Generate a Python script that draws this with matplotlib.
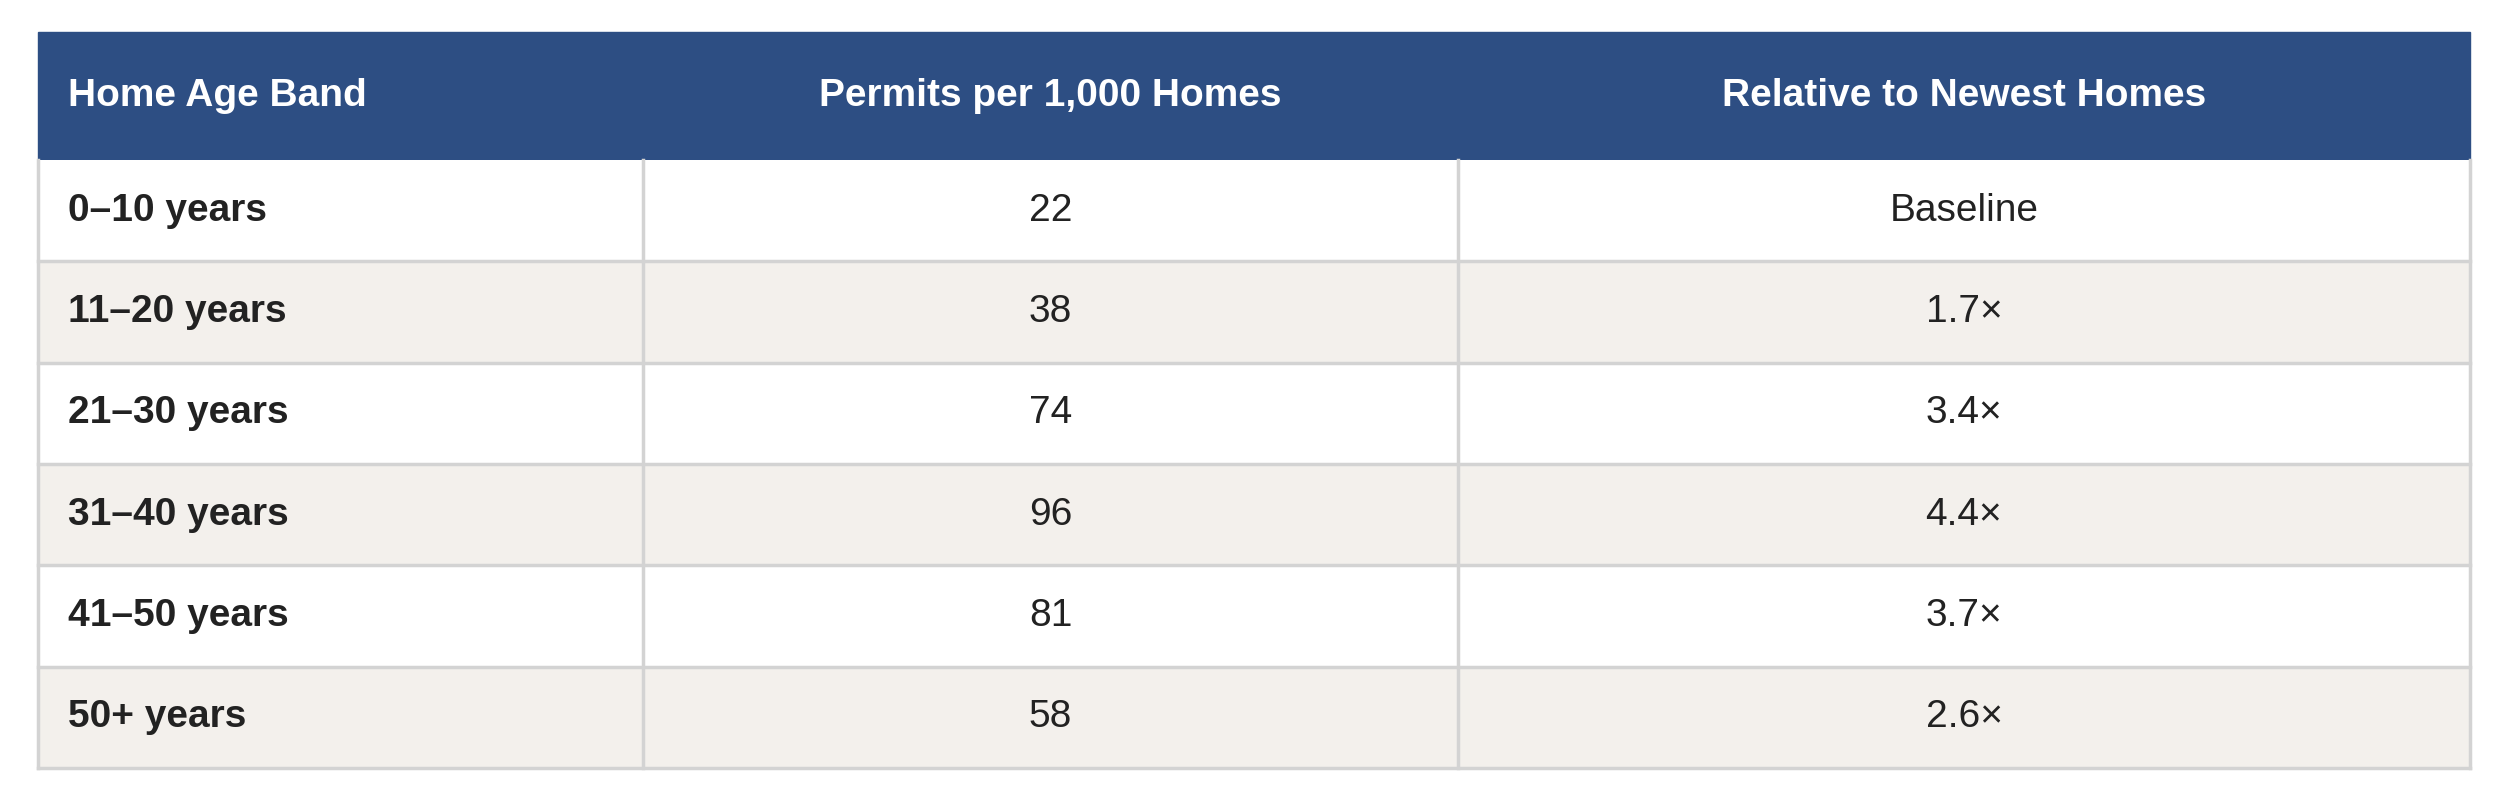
import matplotlib
matplotlib.use("Agg")
import matplotlib.pyplot as plt
from matplotlib.patches import Rectangle

headers = ["Home Age Band", "Permits per 1,000 Homes", "Relative to Newest Homes"]
bands = ["0–10 years", "11–20 years", "21–30 years", "31–40 years", "41–50 years", "50+ years"]
permits = [22, 38, 74, 96, 81, 58]
relative = ["Baseline", "1.7×", "3.4×", "4.4×", "3.7×", "2.6×"]

W, H = 2500, 794
fig = plt.figure(figsize=(25, 7.94), dpi=100)
ax = fig.add_axes([0, 0, 1, 1])
ax.set_xlim(0, W)
ax.set_ylim(H, 0)
ax.axis("off")
plt.rcParams['font.family'] = ['Liberation Sans', 'DejaVu Sans']

left, right = 38, 2470
cols = [left, 643, 1458, right]
top, head_bot, bottom = 32, 160, 768
row_h = (bottom - head_bot) / len(bands)
header_color = "#2d4e83"
alt_color = "#f3f0ec"
line_color = "#d3d3d3"
text_color = "#222222"
fs = 28

ax.add_patch(Rectangle((left, top), right - left, head_bot - top, color=header_color, zorder=1))
hy = (top + head_bot) / 2
ax.text(left + 30, hy, headers[0], color="white", fontsize=fs, fontweight="bold", va="center", ha="left")
for i in (1, 2):
    ax.text((cols[i] + cols[i + 1]) / 2, hy, headers[i], color="white", fontsize=fs,
            fontweight="bold", va="center", ha="center")

for r, (b, p, rel) in enumerate(zip(bands, permits, relative)):
    y0 = head_bot + r * row_h
    fc = alt_color if r % 2 == 1 else "white"
    ax.add_patch(Rectangle((left, y0), right - left, row_h, facecolor=fc, edgecolor="none", zorder=1))
    yc = y0 + row_h / 2
    ax.text(left + 30, yc, b, color=text_color, fontsize=fs, fontweight="bold", va="center", ha="left")
    ax.text((cols[1] + cols[2]) / 2, yc, str(p), color=text_color, fontsize=fs, va="center", ha="center")
    ax.text((cols[2] + cols[3]) / 2, yc, rel, color=text_color, fontsize=fs, va="center", ha="center")
    ax.plot([left, right], [y0 + row_h, y0 + row_h], color=line_color, lw=2.5, zorder=2)

for x in cols:
    ys = head_bot if x in (cols[1], cols[2]) else head_bot
    ax.plot([x, x], [ys, bottom], color=line_color, lw=2.5, zorder=2)

fig.savefig("out.png", dpi=100, facecolor="white")
